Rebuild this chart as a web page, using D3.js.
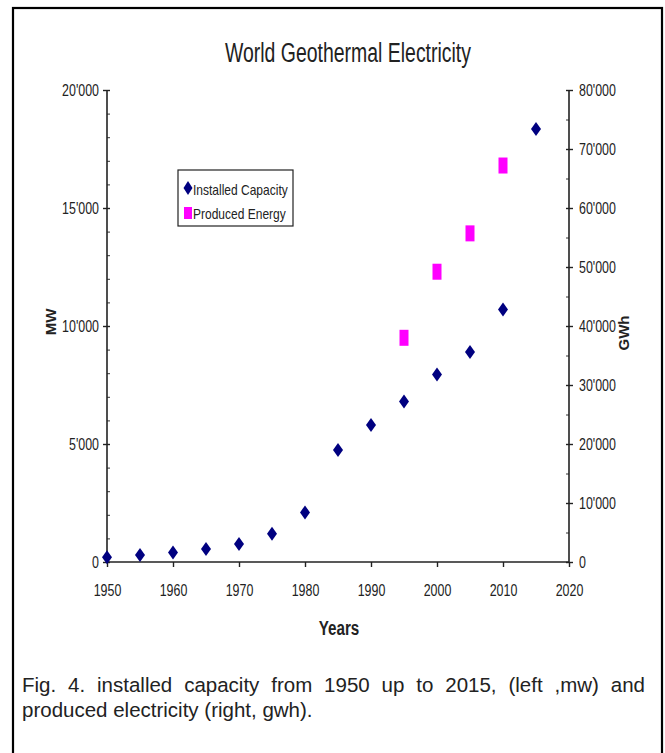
<!DOCTYPE html>
<html lang="en">
<head>
    <meta charset="UTF-8">
    <title>World Geothermal Electricity</title>
    <style>
        html, body {
            margin: 0;
            padding: 0;
            background: #fff;
        }

        svg text {
            font-family: "Liberation Sans", Arial, sans-serif;
            fill: #222;
        }
    </style>
</head>
<body>
<div id="chart"></div>
<script src="https://cdn.jsdelivr.net/npm/d3@7"></script>
<script>
    // data
    const years = [1950, 1955, 1960, 1965, 1970, 1975, 1980, 1985, 1990, 1995, 2000, 2005, 2010, 2015]
    const capacityMW = [200, 300, 400, 550, 760, 1200, 2100, 4750, 5800, 6800, 7950, 8900, 10700, 18350]
    const energyYears = [1995, 2000, 2005, 2010]
    const energyGWh = [38000, 49200, 55700, 67200]
    const xTicks = [1950, 1960, 1970, 1980, 1990, 2000, 2010, 2020]
    const leftTicks = [0, 5000, 10000, 15000, 20000]
    const rightTicks = [0, 10000, 20000, 30000, 40000, 50000, 60000, 70000, 80000]

    const width = 665, height = 753
    const plot = {left: 107, right: 569, top: 90, bottom: 562}
    const squeezeK = 0.73

    const fmt = d3.formatLocale({decimal: '.', thousands: "'", grouping: [3], currency: ['', '']}).format(',')

    const svg = d3.select('#chart').append('svg').attr('width', width).attr('height', height)

    // squash text horizontally like the original (narrow look)
    const squeeze = (sel, k) => sel.each(function () {
        const w = this.getComputedTextLength()
        d3.select(this).attr('textLength', w * k).attr('lengthAdjust', 'spacingAndGlyphs')
    })

    // outer frame
    svg.append('rect')
        .attr('x', 13).attr('y', 8)
        .attr('width', 649).attr('height', 760)
        .attr('fill', 'none').attr('stroke', '#000').attr('stroke-width', 2.2)

    const x = d3.scaleLinear().domain([1950, 2020]).range([plot.left, plot.right])
    const yL = d3.scaleLinear().domain([0, 20000]).range([plot.bottom, plot.top])
    const yR = d3.scaleLinear().domain([0, 80000]).range([plot.bottom, plot.top])

    // title
    svg.append('text')
        .attr('x', 348).attr('y', 62)
        .attr('text-anchor', 'middle')
        .attr('font-size', 27)
        .text('World Geothermal Electricity')
        .call(squeeze, 0.72)

    // left axis (minor ticks first, then the major ones)
    svg.append('g')
        .attr('transform', `translate(${plot.left},0)`)
        .call(d3.axisRight(yL).tickValues(d3.range(0, 20001, 1000)).tickSize(3).tickFormat(''))
        .call(g => g.select('.domain').remove())
        .selectAll('line').attr('stroke', '#333')

    const gL = svg.append('g')
        .attr('transform', `translate(${plot.left},0)`)
        .call(d3.axisLeft(yL).tickValues(leftTicks).tickSize(4).tickPadding(4).tickFormat(fmt))
    gL.select('.domain').attr('d', `M0,${plot.bottom}V${plot.top}`).attr('stroke', '#222').attr('stroke-width', 1.6)
    gL.selectAll('.tick line').attr('x1', 3).attr('stroke', '#222').attr('stroke-width', 1.4)
    gL.selectAll('.tick text').attr('font-size', 17).attr('fill', '#333').call(squeeze, squeezeK)

    // right axis
    svg.append('g')
        .attr('transform', `translate(${plot.right},0)`)
        .call(d3.axisLeft(yR).tickValues(d3.range(5000, 80000, 10000)).tickSize(3).tickFormat(''))
        .call(g => g.select('.domain').remove())
        .selectAll('line').attr('stroke', '#333')

    const gR = svg.append('g')
        .attr('transform', `translate(${plot.right},0)`)
        .call(d3.axisRight(yR).tickValues(rightTicks).tickSize(4).tickPadding(6).tickFormat(fmt))
    gR.select('.domain').attr('d', `M0,${plot.bottom}V${plot.top}`).attr('stroke', '#222').attr('stroke-width', 1.6)
    gR.selectAll('.tick line').attr('x1', -3).attr('stroke', '#222').attr('stroke-width', 1.4)
    gR.selectAll('.tick text').attr('font-size', 17).attr('fill', '#333').call(squeeze, squeezeK)

    // x axis
    const gX = svg.append('g')
        .attr('transform', `translate(0,${plot.bottom})`)
        .call(d3.axisBottom(x).tickValues(xTicks).tickSize(5).tickPadding(17).tickFormat(d3.format('d')))
    gX.select('.domain').attr('d', `M${plot.left},0H${plot.right}`).attr('stroke', '#222').attr('stroke-width', 1.6)
    gX.selectAll('.tick line').attr('stroke', '#222').attr('stroke-width', 1.4)
    gX.selectAll('.tick text').attr('font-size', 17).attr('fill', '#333').call(squeeze, squeezeK)

    // axis titles
    svg.append('text')
        .attr('x', 339).attr('y', 635)
        .attr('text-anchor', 'middle')
        .attr('font-size', 20).attr('font-weight', 'bold')
        .text('Years')
        .call(squeeze, 0.76)

    svg.append('text')
        .attr('transform', 'translate(56,322) rotate(-90)')
        .attr('text-anchor', 'middle')
        .attr('font-size', 15).attr('font-weight', 'bold')
        .text('MW')

    svg.append('text')
        .attr('transform', 'translate(629,333) rotate(-90)')
        .attr('text-anchor', 'middle')
        .attr('font-size', 15).attr('font-weight', 'bold')
        .text('GWh')

    // markers
    const diamond = (cx, cy, w, h) => `M${cx},${cy - h / 2}L${cx + w / 2},${cy}L${cx},${cy + h / 2}L${cx - w / 2},${cy}Z`

    svg.append('g').selectAll('path')
        .data(years.map((yr, i) => ({yr, v: capacityMW[i]})))
        .join('path')
        .attr('d', d => diamond(x(d.yr), yL(d.v), 10, 14))
        .attr('fill', '#000080')

    svg.append('g').selectAll('rect')
        .data(energyYears.map((yr, i) => ({yr, v: energyGWh[i]})))
        .join('rect')
        .attr('x', d => x(d.yr) - 4.5)
        .attr('y', d => yR(d.v) - 8)
        .attr('width', 9).attr('height', 16)
        .attr('fill', '#ff00ff')

    // legend
    const leg = svg.append('g')
    leg.append('rect')
        .attr('x', 178).attr('y', 170).attr('width', 115).attr('height', 56)
        .attr('fill', '#fff').attr('stroke', '#222').attr('stroke-width', 1.2)
    leg.append('path').attr('d', diamond(188, 188, 9, 14)).attr('fill', '#000080')
    leg.append('rect').attr('x', 184).attr('y', 207).attr('width', 8).attr('height', 12).attr('fill', '#ff00ff')
    leg.append('text').attr('x', 193).attr('y', 195).attr('font-size', 15).text('Installed Capacity').call(squeeze, 0.8)
    leg.append('text').attr('x', 193).attr('y', 219).attr('font-size', 15).text('Produced Energy').call(squeeze, 0.8)

    // caption, first line justified
    const capLeft = 22, capRight = 645
    const line1 = svg.append('text')
        .attr('x', capLeft).attr('y', 692)
        .attr('font-size', 20.5).attr('fill', '#111')
        .text('Fig. 4. installed capacity from 1950 up to 2015, (left ,mw) and')
    const spaces = line1.text().split(' ').length - 1
    const extra = (capRight - capLeft - line1.node().getComputedTextLength()) / spaces
    line1.attr('word-spacing', Math.max(0, extra))

    svg.append('text')
        .attr('x', capLeft).attr('y', 717)
        .attr('font-size', 20.5).attr('fill', '#111')
        .text('produced electricity (right, gwh).')
</script>
</body>
</html>
